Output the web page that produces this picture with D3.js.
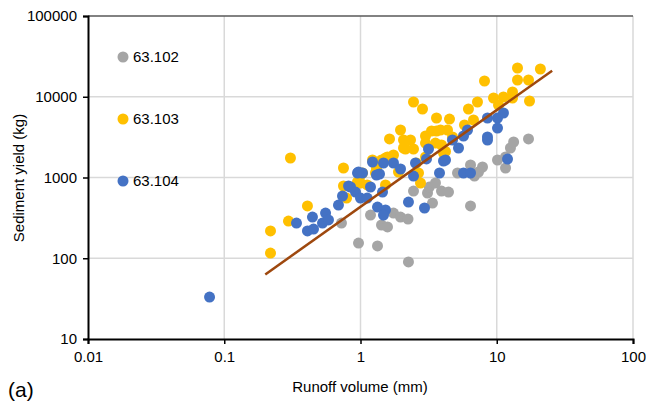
<!DOCTYPE html>
<html><head><meta charset="utf-8">
<script src="https://cdn.jsdelivr.net/npm/d3@7"></script>
<style>body{margin:0;background:#fff}svg{display:block}text{font-family:"Liberation Sans",Arial,sans-serif;fill:#000}</style>
</head><body><svg id="c" width="646" height="404"></svg>
<script>
const seriesNames = ["63.102","63.103","63.104"];
const seriesColors = ["#A5A5A5","#FFC000","#4472C4"];
const xTicks = [0.01,0.1,1,10,100];
const yTicks = [10,100,1000,10000,100000];
const gray = [[0.725,273],[0.967,154],[1.333,142],[1.184,343],[1.426,258],[1.578,244],[1.746,363],[1.967,324],[2.232,306],[2.249,90],[2.449,680],[3.103,643],[3.2,760],[3.376,483],[3.55,855],[3.93,680],[4.425,661],[5.153,1137],[6.42,1428],[6.86,1043],[7.35,1170],[7.86,1349],[6.42,444],[10.13,1647],[11.6,1311],[11.6,1795],[12.6,2319],[13.3,2752],[17.1,3000]];
const yellow = [[0.2185,218],[0.2185,116],[0.296,289],[0.306,1744],[0.408,444],[0.75,1311],[0.75,785],[0.79,557],[0.95,880],[1.0,855],[1.034,1137],[1.225,1647],[1.12,808],[1.31,1311],[1.526,1744],[1.526,808],[1.426,1647],[1.578,1795],[1.633,3000],[1.746,1900],[1.9,1170],[1.967,3875],[2.068,2319],[2.068,2913],[2.138,2254],[2.328,2913],[2.449,2254],[2.449,8610],[2.851,7050],[2.57,1512],[2.665,1137],[2.756,855],[3.0,3265],[3.0,2673],[3.0,1795],[3.319,3765],[3.55,2673],[3.613,5455],[3.613,3765],[3.864,3875],[3.93,2526],[4.065,2011],[4.205,2100],[4.35,3875],[4.5,5300],[4.733,3175],[5.8,4470],[6.2,7050],[6.75,5155],[7.22,8610],[8.13,15670],[9.47,9650],[10.3,7900],[11.2,9930],[13.05,11450],[13.05,9650],[14.2,22700],[14.2,16120],[17.1,16120],[20.9,22070],[17.4,8860],[1.288,1137],[1.0,1074]];
const blue = [[0.078,33.1],[0.339,273],[0.444,324],[0.408,218],[0.452,230],[0.526,273],[0.554,363],[0.582,298],[0.689,455],[0.738,590],[0.817,785],[0.951,1137],[0.919,661],[1.0,557],[1.12,557],[0.845,763],[1.184,763],[1.451,661],[1.333,431],[1.526,396],[1.475,343],[1.225,1556],[1.475,1512],[1.746,1512],[1.967,1274],[1.034,1137],[1.379,1105],[2.449,1040],[2.249,497],[2.95,419],[3.8,1137],[2.533,1512],[3.155,2254],[3.05,1700],[4.065,1601],[5.24,2319],[4.733,2913],[6.1,3875],[5.7,3265],[5.7,1137],[6.42,1137],[8.55,3175],[8.55,5455],[10.13,5455],[11.2,6290],[10.13,4100],[12.0,1690],[8.55,2913],[4.205,1647],[1.31,1074],[0.967,1170]];
const trendX = [0.2, 25.5];
const trendY = [63, 21000];

const svg = d3.select("#c");
const x = d3.scaleLog().domain([0.01,100]).range([88,633]);
const y = d3.scaleLog().domain([10,100000]).range([339,16]);

// gridlines
svg.append("g").selectAll("line.v").data(xTicks.slice(1)).join("line")
  .attr("x1",d=>x(d)).attr("x2",d=>x(d)).attr("y1",16).attr("y2",339)
  .attr("stroke","#D9D9D9").attr("stroke-width",1.5);
svg.append("g").selectAll("line.h").data(yTicks.slice(1)).join("line")
  .attr("x1",88).attr("x2",633).attr("y1",d=>y(d)).attr("y2",d=>y(d))
  .attr("stroke",d=>d===100000?"#595959":"#D9D9D9").attr("stroke-width",1.5);

// axes
const xa = svg.append("g").attr("transform","translate(0,339)")
  .call(d3.axisBottom(x).tickValues(xTicks).tickFormat(d=>String(d)).tickSize(5).tickPadding(7));
const ya = svg.append("g").attr("transform","translate(88,0)")
  .call(d3.axisLeft(y).tickValues(yTicks).tickFormat(d=>String(d)).tickSize(5).tickPadding(6));
[xa,ya].forEach(a=>{
  a.select(".domain").attr("stroke","#000").attr("stroke-width",2);
  a.selectAll(".tick line").attr("stroke","#000").attr("stroke-width",1.5);
  a.selectAll(".tick text").attr("font-size",15).attr("font-family","Liberation Sans, Arial, sans-serif").attr("fill","#000");
});

// points
const all = [gray, yellow, blue];
all.forEach((s,i)=>{
  svg.append("g").selectAll("circle").data(s).join("circle")
    .attr("cx",d=>x(d[0])).attr("cy",d=>y(d[1])).attr("r",5.5)
    .attr("fill",seriesColors[i]);
});

// trend line
svg.append("path").datum(trendX.map((v,i)=>[v,trendY[i]]))
  .attr("d",d3.line().x(d=>x(d[0])).y(d=>y(d[1])))
  .attr("stroke","#9E480E").attr("stroke-width",2.5).attr("fill","none");

// legend
const lg = svg.append("g");
seriesNames.forEach((n,i)=>{
  const ly = y(30000) + i*62 - y(30000) + 57;
  lg.append("circle").attr("cx",123).attr("cy",ly).attr("r",5.5).attr("fill",seriesColors[i]);
  lg.append("text").attr("x",133).attr("y",ly+5).attr("font-size",15).text(n);
});

// titles
svg.append("text").attr("transform","translate(24,178) rotate(-90)").attr("text-anchor","middle").attr("font-size",15).text("Sediment yield (kg)");
svg.append("text").attr("x",360).attr("y",392).attr("text-anchor","middle").attr("font-size",15).text("Runoff volume (mm)");
svg.append("text").attr("x",8).attr("y",397).attr("font-size",21).text("(a)");
</script></body></html>
